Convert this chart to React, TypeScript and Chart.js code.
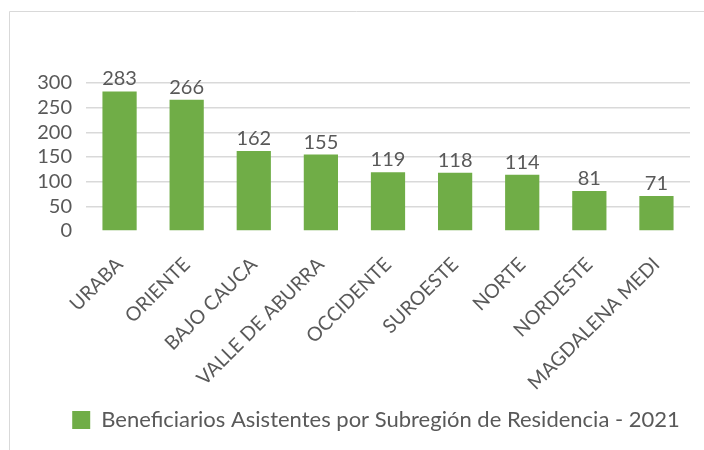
import React, { useEffect, useRef } from "react";
import { Chart, registerables } from "chart.js";

Chart.register(...registerables);

const categories = [
  "URABA",
  "ORIENTE",
  "BAJO CAUCA",
  "VALLE DE ABURRA",
  "OCCIDENTE",
  "SUROESTE",
  "NORTE",
  "NORDESTE",
  "MAGDALENA MEDI",
];
const values = [283, 266, 162, 155, 119, 118, 114, 81, 71];
const seriesLabel = "Beneficiarios Asistentes por Subregión de Residencia - 2021";
const yTicks = [0, 50, 100, 150, 200, 250, 300];

const FONT = "Lato, 'Open Sans', sans-serif";
const GRAY = "#595959";
const GREEN = "#70ad47";
const LEGEND_SHIFT = 31;

const framePlugin = {
  id: "frame",
  beforeDraw(chart: any) {
    const ctx = chart.ctx;
    ctx.save();
    ctx.strokeStyle = "#d9d9d9";
    ctx.lineWidth = 1;
    ctx.beginPath();
    ctx.moveTo(9.5, 450);
    ctx.lineTo(9.5, 11.5);
    ctx.lineTo(704, 11.5);
    ctx.stroke();
    ctx.restore();
  },
};

const legendShift = {
  id: "legendShift",
  afterLayout(chart: any) {
    const lg = chart.legend;
    if (lg) {
      lg.left += LEGEND_SHIFT;
      lg.right += LEGEND_SHIFT;
    }
  },
};

const valueLabels = {
  id: "valueLabels",
  afterDatasetsDraw(chart: any) {
    const ctx = chart.ctx;
    const meta = chart.getDatasetMeta(0);
    ctx.save();
    ctx.fillStyle = GRAY;
    ctx.font = `20px ${FONT}`;
    ctx.textAlign = "center";
    ctx.textBaseline = "alphabetic";
    meta.data.forEach((bar: any, i: number) => {
      ctx.fillText(String(values[i]), bar.x, bar.y - 6);
    });
    ctx.restore();
  },
};

export default function App() {
  const ref = useRef<HTMLCanvasElement>(null);
  useEffect(() => {
    if (!ref.current) return;
    const chart = new Chart(ref.current, {
      type: "bar",
      data: {
        labels: categories,
        datasets: [
          {
            label: seriesLabel,
            data: values,
            backgroundColor: GREEN,
            borderWidth: 0,
            barPercentage: 0.51,
            categoryPercentage: 1,
          },
        ],
      },
      options: {
        animation: false,
        responsive: false,
        maintainAspectRatio: false,
        layout: { padding: { left: 0, right: 14, top: 83, bottom: 9 } },
        plugins: {
          legend: {
            position: "bottom",
            labels: {
              color: GRAY,
              font: { family: FONT, size: 22 },
              boxWidth: 18,
              boxHeight: 18,
              padding: 8,
            },
          },
          tooltip: { enabled: false },
        },
        scales: {
          x: {
            grid: { display: false },
            border: { display: false },
            afterFit(scale: any) {
              scale.height = 170;
            },
            ticks: {
              color: GRAY,
              font: { family: FONT, size: 19.5 },
              maxRotation: 45,
              minRotation: 45,
              padding: 14,
            },
          },
          y: {
            min: 0,
            max: 300,
            afterFit(scale: any) {
              scale.width = 86;
            },
            afterBuildTicks(scale: any) {
              scale.ticks = yTicks.map((v) => ({ value: v }));
            },
            border: { display: false },
            grid: {
              color: (c: any) => (c.tick && c.tick.value === 0 ? "rgba(0,0,0,0)" : "#d9d9d9"),
              lineWidth: 1.5,
              drawTicks: false,
            },
            ticks: {
              color: GRAY,
              font: { family: FONT, size: 20 },
              padding: 14,
              autoSkip: false,
            },
          },
        },
      },
      plugins: [framePlugin, legendShift, valueLabels],
    });
    return () => chart.destroy();
  }, []);
  return (
    <div style={{ position: "fixed", left: 0, top: 0, width: 704, height: 450, background: "#fff" }}>
      <canvas ref={ref} width={704} height={450} style={{ display: "block" }} />
    </div>
  );
}
